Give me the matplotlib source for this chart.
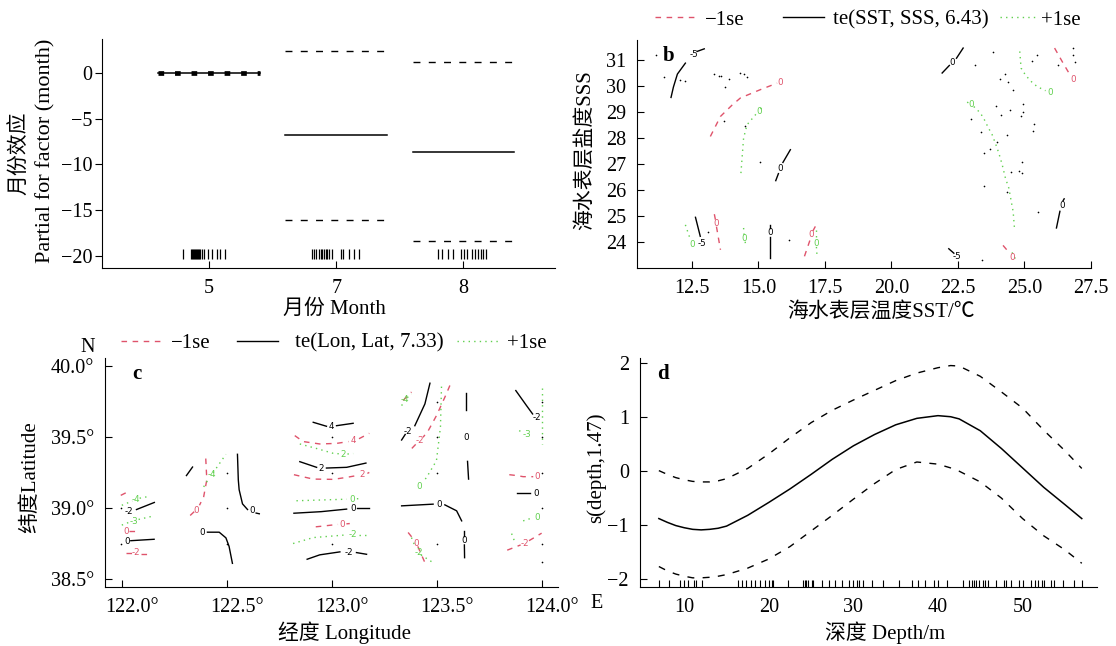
import matplotlib
matplotlib.use("Agg")
import matplotlib.pyplot as plt
import matplotlib.transforms as mtransforms
from matplotlib.lines import Line2D

plt.rcParams['font.family'] = ['Liberation Serif', 'Noto Sans CJK SC']
plt.rcParams['axes.unicode_minus'] = True

RED = '#DF536B'
GREEN = '#61D04F'
W, H = 1116, 646

# ---------------- panel a: month factor ----------------
months = ['5', '7', '8']
month_fit = [0.0, -6.85, -8.65]
month_upper = [0.0, 2.35, 1.2]
month_lower = [0.0, -16.1, -18.4]
# rug (jittered month positions, offset from category centre)
month_rug = [
    [-0.202, -0.144, -0.136, -0.129, -0.121, -0.113, -0.105, -0.097, -0.089,
     -0.079, -0.071, -0.058, -0.037, -0.013, 0.021, 0.06, 0.087, 0.123],
    [-0.189, -0.176, -0.163, -0.136, -0.123, -0.110, -0.097, -0.084, -0.071,
     -0.058, -0.031, 0.034, 0.055, 0.1, 0.139, 0.178],
    [-0.2, -0.166, -0.124, -0.082, -0.02, 0.002, 0.03, 0.064, 0.087, 0.115,
     0.137, 0.157, 0.177],
]

# ---------------- panel b: te(SST, SSS) contours ----------------
b_fit_lines = [
    [(11.71, 29.55), (11.80, 29.95), (11.95, 30.45), (12.25, 30.87)],
    [(12.69, 31.32), (12.96, 31.42)],
    [(15.65, 26.35), (15.75, 26.62)],
    [(15.92, 27.05), (16.20, 27.54)],
    [(12.63, 24.94), (12.81, 24.21)],
    [(15.45, 24.65), (15.45, 24.53)],
    [(15.45, 24.17), (15.45, 23.37)],
    [(21.91, 30.49), (22.18, 30.78)],
    [(22.45, 31.06), (22.70, 31.45)],
    [(22.16, 23.73), (22.35, 23.56)],
    [(26.21, 24.53), (26.34, 25.17)],
    [(26.46, 25.58), (26.50, 25.65)],
]
b_fit_labels = [(12.56, 31.22, '-5'), (15.83, 26.83, '0'), (12.88, 23.95, '-5'),
                (15.45, 24.37, '0'), (22.30, 30.90, '0'), (22.47, 23.44, '-5'),
                (26.42, 25.40, '0')]
b_lower_lines = [
    [(13.19, 28.05), (13.57, 28.82), (14.0, 29.25), (14.32, 29.53), (15.07, 29.85), (15.70, 30.10)],
    [(13.34, 25.06), (13.38, 24.85)],
    [(13.42, 24.58), (13.57, 23.69)],
    [(16.73, 23.44), (16.95, 24.10)],
    [(17.05, 24.42), (17.14, 24.59)],
    [(26.14, 31.45), (26.46, 30.87), (26.72, 30.42)],
    [(24.20, 23.86), (24.45, 23.56)],
]
b_lower_labels = [(15.82, 30.14, '0'), (13.40, 24.72, '0'), (17.0, 24.27, '0'),
                  (26.83, 30.25, '0'), (24.54, 23.41, '0')]
b_upper_lines = [
    [(14.34, 26.64), (14.44, 27.99), (14.57, 28.5), (14.90, 28.9)],
    [(15.08, 29.10), (15.15, 29.20)],
    [(12.25, 24.65), (12.45, 24.05)],
    [(14.44, 24.53), (14.46, 24.25)],
    [(14.50, 24.0), (14.51, 23.9)],
    [(17.18, 24.46), (17.18, 24.15)],
    [(17.18, 23.80), (17.20, 23.50)],
    [(24.83, 31.32), (24.88, 30.68), (25.04, 30.42), (25.23, 30.19), (25.48, 29.97), (25.80, 29.81)],
    [(22.85, 29.37), (22.92, 29.33)],
    [(23.10, 29.20), (23.35, 28.95), (23.50, 28.69), (23.64, 28.40), (23.79, 28.12),
     (23.98, 27.60), (24.08, 27.28), (24.17, 26.96), (24.29, 26.45), (24.42, 26.06),
     (24.52, 25.49), (24.58, 25.17), (24.63, 24.53)],
    [(24.54, 23.59), (24.70, 23.27)],
]
b_upper_labels = [(15.01, 29.01, '0'), (12.5, 23.88, '0'), (14.47, 24.12, '0'),
                  (17.18, 23.95, '0'), (25.98, 29.74, '0'), (23.0, 29.27, '0')]
b_points_sst = [11.13, 11.46, 12.06, 12.25, 13.34, 13.50, 13.59, 13.88, 13.75, 14.29, 14.44,
                14.57, 13.72, 14.51, 15.05, 13.09, 16.14, 23.83, 25.46, 25.29, 23.16, 26.26,
                24.27, 24.10, 24.39, 24.58, 23.94, 24.48, 24.96, 24.14, 24.94, 24.89, 23.0,
                25.38, 25.32, 23.38, 24.35, 23.98, 23.70, 23.48, 24.92, 24.50, 24.82, 24.92,
                23.48, 24.35, 25.52, 23.41, 26.85, 26.85, 26.9]
b_points_sss = [31.17, 30.32, 30.23, 30.19, 30.45, 30.36, 30.36, 30.27, 29.94, 30.49, 30.45,
                30.33, 28.65, 28.44, 27.06, 24.37, 24.05, 31.29, 31.17, 30.97, 30.81, 30.81,
                30.45, 30.27, 30.14, 29.82, 29.21, 29.08, 29.29, 28.88, 28.99, 28.82, 28.73,
                28.53, 28.27, 28.22, 28.12, 27.83, 27.58, 27.41, 27.06, 26.68, 26.73, 26.64,
                26.13, 25.90, 25.14, 23.28, 31.45, 31.2, 30.9]

# ---------------- panel c: te(Lon, Lat) contours ----------------
c_fit_lines = [
    [(122.07, 38.99), (122.155, 39.04)],
    [(122.043, 38.77), (122.154, 38.78)],
    [(122.308, 39.23), (122.337, 39.29)],
    [(122.551, 39.38), (122.555, 39.2), (122.559, 39.13), (122.575, 39.03), (122.599, 38.99)],
    [(122.64, 38.965), (122.655, 38.96)],
    [(122.408, 38.83), (122.464, 38.83), (122.496, 38.79), (122.511, 38.73), (122.527, 38.61)],
    [(122.912, 39.606), (122.975, 39.578)],
    [(123.023, 39.582), (123.102, 39.599)],
    [(122.848, 39.328), (122.928, 39.288)],
    [(122.975, 39.283), (123.071, 39.288), (123.163, 39.318)],
    [(122.82, 38.964), (122.95, 38.975), (123.071, 38.993)],
    [(123.12, 39.0), (123.179, 39.0)],
    [(122.883, 38.639), (122.943, 38.67), (123.039, 38.691)],
    [(123.118, 38.686), (123.166, 38.674)],
    [(123.333, 39.481), (123.35, 39.52)],
    [(123.396, 39.582), (123.444, 39.736), (123.468, 39.882)],
    [(123.642, 39.81), (123.642, 39.69)],
    [(123.647, 39.33), (123.652, 39.205)],
    [(123.333, 39.016), (123.483, 39.028)],
    [(123.539, 39.023), (123.595, 38.981), (123.619, 38.91)],
    [(123.63, 38.84), (123.63, 38.80)],
    [(123.632, 38.74), (123.633, 38.65)],
    [(123.877, 39.83), (123.928, 39.724), (123.957, 39.665)],
    [(123.884, 39.104), (123.944, 39.104)],
]
c_fit_labels = [(122.035, 38.974, '-2'), (122.024, 38.761, '0'), (122.619, 38.98, '0'),
                (122.384, 38.825, '0'), (123.0, 39.577, '4'), (122.951, 39.283, '2'),
                (123.102, 39.0, '0'), (123.083, 38.686, '-2'), (123.364, 39.542, '-2'),
                (123.642, 39.5, '0'), (123.51, 39.028, '0'), (123.632, 38.769, '0'),
                (123.976, 39.637, '-2'), (123.973, 39.106, '0')]
c_lower_lines = [
    [(121.995, 39.09), (122.022, 39.11)],
    [(122.035, 38.84), (122.08, 38.84)],
    [(122.02, 38.68), (122.05, 38.68)],
    [(122.09, 38.675), (122.14, 38.675)],
    [(122.40, 39.35), (122.405, 39.2), (122.39, 39.08), (122.37, 39.02)],
    [(122.345, 38.975), (122.32, 38.94)],
    [(122.824, 39.512), (122.864, 39.47), (122.943, 39.453), (123.023, 39.457), (123.08, 39.47)],
    [(123.13, 39.49), (123.179, 39.528)],
    [(122.82, 39.236), (122.864, 39.221), (122.912, 39.205), (123.007, 39.203), (123.071, 39.217), (123.12, 39.23)],
    [(123.17, 39.245), (123.179, 39.252)],
    [(122.924, 38.868), (122.951, 38.872), (122.999, 38.88), (123.03, 38.885)],
    [(123.07, 38.889), (123.086, 38.891)],
    [(123.34, 39.76), (123.38, 39.82)],
    [(123.563, 39.866), (123.539, 39.783), (123.499, 39.653), (123.46, 39.547), (123.435, 39.5)],
    [(123.40, 39.45), (123.364, 39.394)],
    [(123.364, 38.828), (123.396, 38.769)],
    [(123.41, 38.73), (123.444, 38.615)],
    [(123.846, 39.236), (123.881, 39.23), (123.912, 39.222), (123.96, 39.222)],
    [(123.836, 38.703), (123.9, 38.74)],
    [(123.94, 38.77), (124.0, 38.823)],
]
c_lower_labels = [(122.019, 38.837, '0'), (122.067, 38.684, '-2'), (122.353, 38.98, '0'),
                  (123.105, 39.476, '4'), (123.147, 39.24, '2'), (123.05, 38.887, '0'),
                  (123.42, 39.476, '-2'), (123.404, 38.75, '0'), (123.979, 39.222, '0'),
                  (123.92, 38.75, '-2')]
c_upper_lines = [
    [(122.0, 39.02), (122.05, 39.05)],
    [(122.085, 39.07), (122.12, 39.08)],
    [(122.0, 38.88), (122.035, 38.90)],
    [(122.08, 38.92), (122.138, 38.94)],
    [(122.39, 39.15), (122.415, 39.21)],
    [(122.435, 39.25), (122.496, 39.38)],
    [(122.848, 39.453), (122.93, 39.42), (123.007, 39.387), (123.04, 39.383)],
    [(123.075, 39.382), (123.102, 39.385)],
    [(122.832, 39.052), (123.071, 39.063)],
    [(123.12, 39.066), (123.142, 39.068)],
    [(122.816, 38.75), (122.912, 38.792), (123.071, 38.811)],
    [(123.13, 38.811), (123.166, 38.811)],
    [(123.333, 39.724), (123.345, 39.75)],
    [(123.36, 39.78), (123.38, 39.807)],
    [(123.523, 39.858), (123.518, 39.571), (123.499, 39.335), (123.452, 39.217), (123.435, 39.185)],
    [(123.38, 38.792), (123.40, 38.72)],
    [(123.425, 38.67), (123.483, 38.615)],
    [(123.893, 39.547), (123.91, 39.535)],
    [(124.0, 39.85), (124.0, 39.45)],
    [(123.912, 38.91), (123.952, 38.929)],
    [(123.857, 38.82), (123.87, 38.77)],
]
c_upper_labels = [(122.067, 39.061, '-4'), (122.059, 38.903, '-3'), (122.429, 39.24, '-4'),
                  (123.055, 39.382, '2'), (123.098, 39.063, '0'), (123.102, 38.811, '-2'),
                  (123.35, 39.765, '-4'), (123.415, 39.155, '0'), (123.415, 38.686, '-2'),
                  (123.928, 39.519, '-3'), (123.98, 38.934, '0')]
c_points_lon = [121.995, 121.995, 122.5, 122.5, 122.5, 123.0, 123.0, 123.0,
                123.5, 123.5, 123.5, 123.5, 124.0, 124.0, 124.0, 124.0, 124.0, 124.0]
c_points_lat = [39.0, 38.75, 39.25, 39.0, 38.75, 39.5, 39.25, 38.75,
                39.75, 39.5, 39.25, 38.75, 39.75, 39.5, 39.25, 39.0, 38.75, 38.62]

# ---------------- panel d: s(depth) ----------------
depth = [7, 8, 9, 10, 11, 12, 13, 14, 15, 17.5, 20, 22.5, 25, 27.5, 30, 32.5, 35,
         37.5, 40, 41.5, 42.5, 45, 47.5, 50, 52.5, 55, 57]
depth_fit = [-0.88, -0.95, -1.01, -1.05, -1.08, -1.09, -1.08, -1.06, -1.02, -0.82, -0.58,
             -0.33, -0.06, 0.22, 0.47, 0.68, 0.86, 0.98, 1.03, 1.01, 0.97, 0.75, 0.42, 0.06,
             -0.30, -0.62, -0.88]
depth_upper = [0.01, -0.06, -0.12, -0.16, -0.19, -0.20, -0.20, -0.18, -0.14, 0.05, 0.32,
               0.62, 0.90, 1.13, 1.32, 1.50, 1.68, 1.82, 1.92, 1.96, 1.95, 1.76, 1.47, 1.17,
               0.76, 0.38, 0.05]
depth_lower = [-1.77, -1.85, -1.91, -1.95, -1.98, -1.98, -1.97, -1.95, -1.92, -1.80, -1.63,
               -1.40, -1.11, -0.82, -0.52, -0.23, 0.03, 0.17, 0.13, 0.06, 0.0, -0.20, -0.50,
               -0.88, -1.20, -1.46, -1.71]
depth_rug = [7.05, 8.19, 9.45, 10.42, 11.14, 11.43, 12.11, 16.41, 16.84, 17.26, 17.89, 18.31,
             18.95, 19.58, 20.42, 20.55, 22.32, 24.01, 24.22, 24.43, 24.64, 25.06, 25.27,
             26.33, 27.17, 27.81, 28.65, 29.49, 30.46, 30.68, 31.10, 32.24, 33.50, 35.40,
             36.88, 37.64, 38.44, 39.54, 41.10, 43.0, 43.63, 44.05, 44.26, 44.47, 44.89,
             45.32, 45.53, 45.95, 46.88, 47.85, 48.06, 48.69, 49.54, 51.01, 51.43, 51.86,
             52.28, 52.49, 53.33, 53.76, 54.81, 56.08, 57.05]

fig = plt.figure(figsize=(W / 100, H / 100), dpi=100)


def px_axes(l, t, r, b):
    ax = fig.add_axes([l / W, 1 - b / H, (r - l) / W, (b - t) / H])
    ax.spines['top'].set_visible(False)
    ax.spines['right'].set_visible(False)
    return ax


def draw_contours(ax, lines, labels, color, style, lw):
    for seg in lines:
        xs = [p[0] for p in seg]
        ys = [p[1] for p in seg]
        ax.plot(xs, ys, color=color, linestyle=style, lw=lw)
    for x, y, s in labels:
        ax.text(x, y, s, color=color, fontsize=6.3, family='DejaVu Sans',
                ha='center', va='center')


DASH = (0, (4, 4))
DOT = (0, (1, 3))

# ---- panel a
ax = px_axes(102, 39, 555, 268)
for i in range(3):
    xc = i + 1
    ax.plot([xc - 0.4, xc + 0.4], [month_fit[i], month_fit[i]], color='k', lw=1.1)
    if i == 0:
        ax.plot([xc - 0.4, xc + 0.4], [month_upper[i], month_upper[i]], color='k',
                lw=3.4, linestyle=(0, (1.2, 2.3)))
    else:
        ax.plot([xc - 0.4, xc + 0.4], [month_upper[i], month_upper[i]], color='k',
                lw=1, linestyle=(0, (5, 6)))
        ax.plot([xc - 0.4, xc + 0.4], [month_lower[i], month_lower[i]], color='k',
                lw=1, linestyle=(0, (5, 6)))
    ax.vlines([xc + o for o in month_rug[i]], -20.4, -19.3, color='k', lw=0.9)
ax.set_xlim(0.157, 3.72)
ax.set_ylim(-21.35, 3.7)
ax.set_xticks([1, 2, 3])
ax.set_xticklabels(months)
ax.set_yticks([0, -5, -10, -15, -20])
ax.tick_params(axis='y', direction='out', length=5, width=0.8, pad=2, labelsize=14.5)
ax.tick_params(axis='x', direction='in', length=5, width=0.8, pad=8, labelsize=14.5)
ax.text(121, 58, 'a', transform=None, fontsize=14, fontweight='bold')
fig.text(19.6 / W, 1 - 153 / H, '月份效应', rotation=90, ha='center', va='center', fontsize=15)
fig.text(45.7 / W, 1 - 151 / H, 'Partial for factor (month)', rotation=90, ha='center',
         va='center', fontsize=16)
fig.text(334 / W, 1 - 309 / H, '月份 Month', ha='center', va='center', fontsize=15)

# ---- panel b
ax = px_axes(637, 40, 1091, 268)
draw_contours(ax, b_lower_lines, b_lower_labels, RED, DASH, 1.0)
draw_contours(ax, b_fit_lines, b_fit_labels, 'k', '-', 1.0)
draw_contours(ax, b_upper_lines, b_upper_labels, GREEN, DOT, 1.0)
ax.plot(b_points_sst, b_points_sss, 'o', color='k', ms=1.2, mew=0)
ax.set_xlim(10.43, 27.51)
ax.set_ylim(22.99, 31.76)
ax.set_xticks([12.5, 15.0, 17.5, 20.0, 22.5, 25.0, 27.5])
ax.set_xticklabels(['12.5', '15.0', '17.5', '20.0', '22.5', '25.0', '27.5'])
ax.set_yticks(range(24, 32))
ax.tick_params(direction='in', length=5, width=0.8, pad=8, labelsize=14.5)
ax.text(0.07, 0.93, 'b', transform=ax.transAxes, fontsize=15, fontweight='bold',
        ha='center', va='center')
fig.text(585 / W, 1 - 150 / H, '海水表层盐度SSS', rotation=90, ha='center', va='center', fontsize=15)
fig.text(881 / W, 1 - 312 / H, '海水表层温度SST/℃', ha='center', va='center', fontsize=15)

# ---- panel c
ax = px_axes(105, 358, 558, 587)
draw_contours(ax, c_lower_lines, c_lower_labels, RED, DASH, 1.0)
draw_contours(ax, c_fit_lines, c_fit_labels, 'k', '-', 1.0)
draw_contours(ax, c_upper_lines, c_upper_labels, GREEN, DOT, 1.0)
ax.plot(c_points_lon, c_points_lat, 'o', color='k', ms=1.2, mew=0)
ax.set_xlim(121.92, 124.078)
ax.set_ylim(38.443, 40.06)
ax.set_xticks([122.0, 122.5, 123.0, 123.5, 124.0])
ax.set_xticklabels(['122.0°', '122.5°', '123.0°', '123.5°', '124.0°'])
ax.set_yticks([38.5, 39.0, 39.5, 40.0])
ax.set_yticklabels(['38.5°', '39.0°', '39.5°', '40.0°'])
ax.tick_params(direction='in', length=5, width=0.8, pad=8, labelsize=14.5)
shift = mtransforms.ScaledTranslation(10 / 100, 0, fig.dpi_scale_trans)
for lab in ax.get_xticklabels():
    lab.set_transform(lab.get_transform() + shift)
ax.text(0.07, 0.93, 'c', transform=ax.transAxes, fontsize=15, fontweight='bold',
        ha='center', va='center')
fig.text(597 / W, 1 - 603 / H, 'E', ha='center', va='center', fontsize=14.5)
fig.text(88 / W, 1 - 348 / H, 'N', ha='center', va='center', fontsize=14.5)
fig.text(30 / W, 1 - 477 / H, '纬度Latitude', rotation=90, ha='center', va='center', fontsize=15)
fig.text(345 / W, 1 - 633 / H, '经度 Longitude', ha='center', va='center', fontsize=15)

# ---- panel d
ax = px_axes(640, 358, 1097, 587)
ax.plot(depth, depth_fit, color='k', lw=1.1)
ax.plot(depth, depth_upper, color='k', lw=1.0, linestyle=(0, (5, 6)))
ax.plot(depth, depth_lower, color='k', lw=1.0, linestyle=(0, (5, 6)))
ax.vlines(depth_rug, -2.15, -2.02, color='k', lw=0.8)
ax.set_xlim(4.77, 58.8)
ax.set_ylim(-2.15, 2.1)
ax.set_xticks([10, 20, 30, 40, 50])
ax.set_yticks([-2, -1, 0, 1, 2])
ax.tick_params(direction='in', length=5, width=0.8, pad=8, labelsize=14.5)
ax.text(0.05, 0.93, 'd', transform=ax.transAxes, fontsize=15, fontweight='bold',
        ha='center', va='center')
fig.text(596 / W, 1 - 468 / H, 's(depth,1.47)', rotation=90, ha='center', va='center', fontsize=15)
fig.text(885 / W, 1 - 633 / H, '深度 Depth/m', ha='center', va='center', fontsize=15)


# ---- legends above panels b and c
def legend_item(x_px, y_px, label, color, style, hlen=1.95, tpad=0.45):
    h = Line2D([], [], color=color, linestyle=style, lw=1.0)
    leg = fig.legend(handles=[h], labels=[label], loc='center left',
                     bbox_to_anchor=(x_px / W, 1 - y_px / H), frameon=False,
                     borderpad=0, borderaxespad=0, handlelength=hlen,
                     handletextpad=tpad, fontsize=15)
    return leg


legend_item(655, 20, '−1se', RED, DASH)
legend_item(783, 20, 'te(SST, SSS, 6.43)', 'k', '-')
legend_item(1000, 20, '+1se', GREEN, DOT, hlen=1.7, tpad=0.25)
legend_item(121, 343, '−1se', RED, DASH)
legend_item(237, 343, 'te(Lon, Lat, 7.33)', 'k', '-', tpad=0.85)
legend_item(457, 343, '+1se', GREEN, DOT)

fig.savefig('out.png', dpi=100)
